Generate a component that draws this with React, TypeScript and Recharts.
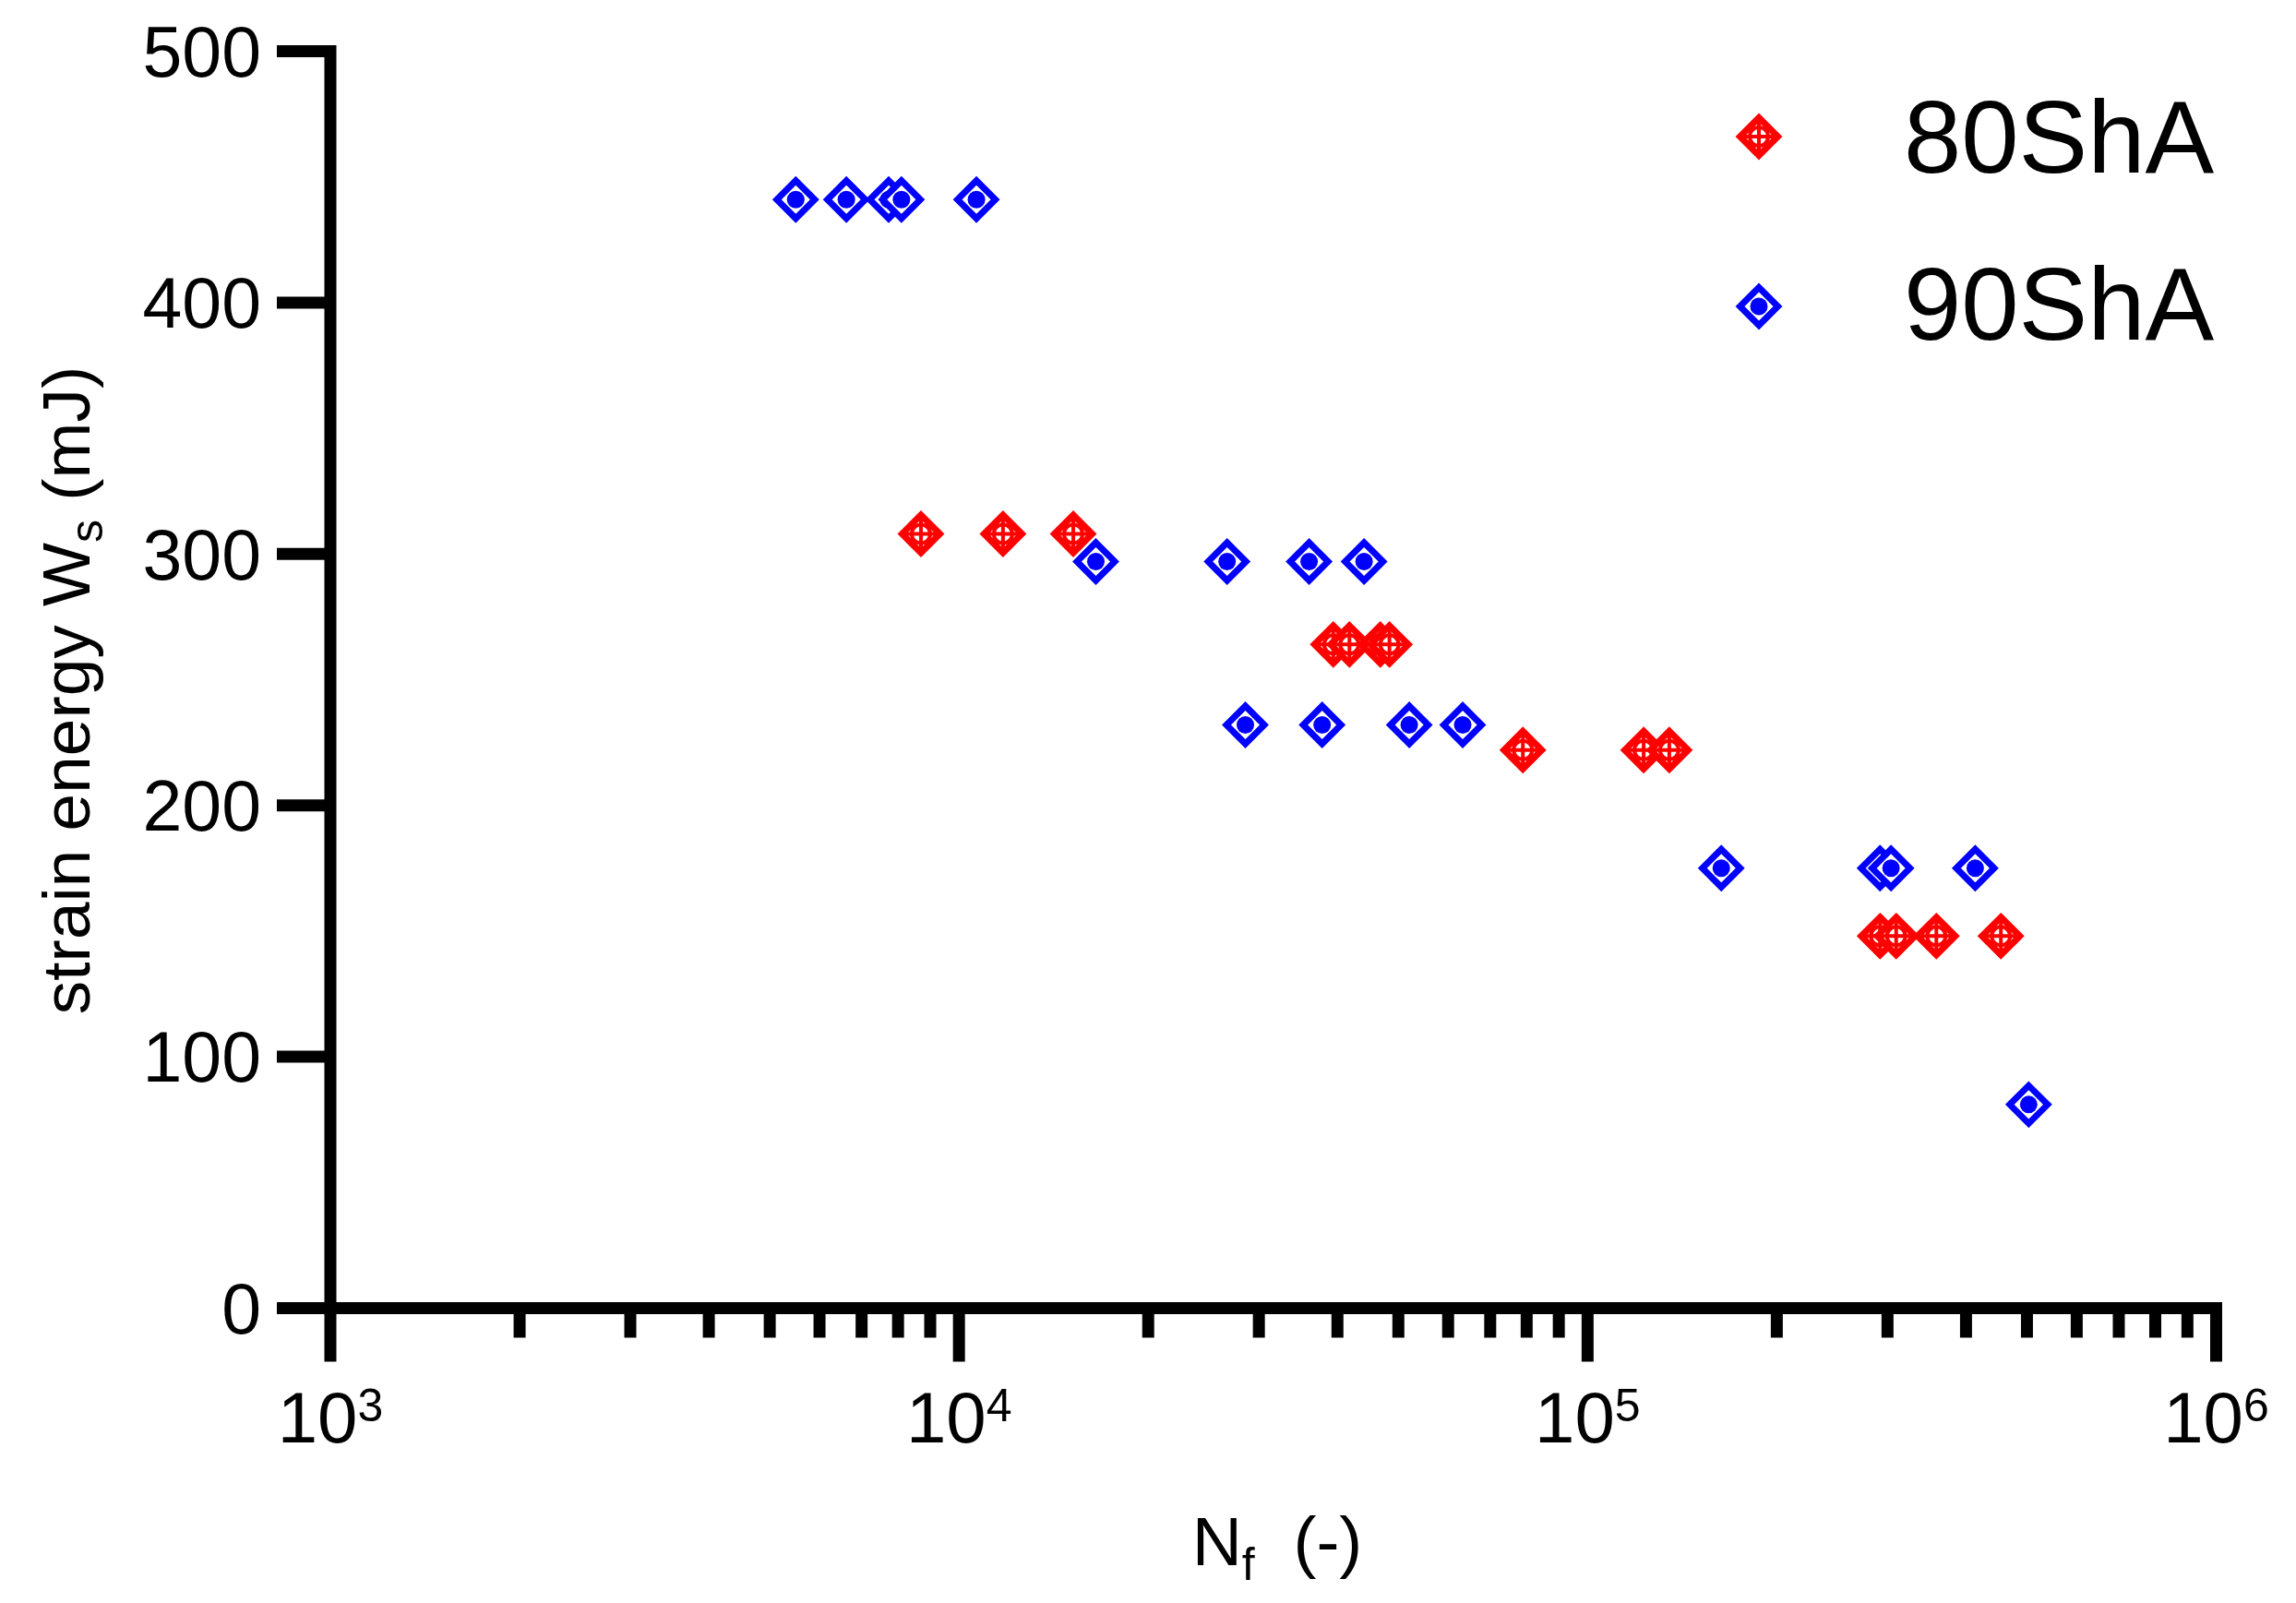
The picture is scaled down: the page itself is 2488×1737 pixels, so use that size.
import React from 'react';
import { ScatterChart, Scatter, XAxis, YAxis } from 'recharts';

const FONT = '"Liberation Sans", Arial, Helvetica, sans-serif';
const RED = '#ff0000';
const BLUE = '#0000ff';

// 80ShA: cycles to failure and strain energy (mJ)
const n80 = [8700, 11750, 15200, 39400, 41800, 46800, 48400, 78900, 122800, 134900, 292000, 309700, 358800, 454500];
const w80 = [308, 308, 308, 264, 264, 264, 264, 222, 222, 222, 148, 148, 148, 148];

// 90ShA
const n90 = [5500, 6620, 7730, 8100, 10660, 16510, 26700, 36060, 44100, 28550, 37820, 52040, 63290, 163200, 291900, 303900, 413700, 503200];
const w90 = [441, 441, 441, 441, 441, 297, 297, 297, 297, 232, 232, 232, 232, 175, 175, 175, 175, 81];

const xMajor = [1000, 10000, 100000, 1000000];
const xTicks = [
  1000, 2000, 3000, 4000, 5000, 6000, 7000, 8000, 9000,
  10000, 20000, 30000, 40000, 50000, 60000, 70000, 80000, 90000,
  100000, 200000, 300000, 400000, 500000, 600000, 700000, 800000, 900000,
  1000000,
];
const yTicks = [0, 100, 200, 300, 400, 500];

const d80 = n80.map((n, i) => ({ n, w: w80[i] }));
const d90 = n90.map((n, i) => ({ n, w: w90[i] }));

const diamond = (cx: number, cy: number, h: number) =>
  `M${cx},${cy - h}L${cx + h},${cy}L${cx},${cy + h}L${cx - h},${cy}Z`;

const RedMark = ({ cx, cy }: any) => (
  <g>
    <path d={diamond(cx, cy, 20.5)} fill="#fff" stroke={RED} strokeWidth={7} />
    <circle cx={cx} cy={cy} r={10} fill="none" stroke={RED} strokeWidth={4} />
    <line x1={cx} x2={cx} y1={cy - 19} y2={cy + 19} stroke={RED} strokeWidth={4} />
    <line x1={cx - 19} x2={cx + 19} y1={cy} y2={cy} stroke={RED} strokeWidth={4} />
  </g>
);

const BlueMark = ({ cx, cy }: any) => (
  <g>
    <path d={diamond(cx, cy, 20.5)} fill="#fff" stroke={BLUE} strokeWidth={7} />
    <circle cx={cx} cy={cy} r={9.5} fill={BLUE} />
  </g>
);

const XTick = ({ x, y, payload }: any) => {
  const v = payload.value;
  const major = xMajor.includes(v);
  return (
    <g>
      <line x1={x} x2={x} y1={y} y2={y + (major ? 58 : 32)} stroke="#000" strokeWidth={13} />
      {major && (
        <text x={x} y={y + 145.5} textAnchor="middle" fontFamily={FONT} fontSize={78} fill="#000">
          10<tspan dy={-23} fontSize={50}>{Math.round(Math.log10(v))}</tspan>
        </text>
      )}
    </g>
  );
};

const axisLine = { stroke: '#000', strokeWidth: 13, strokeLinecap: 'square' as const };

export default function App() {
  return (
    <div style={{ position: 'absolute', left: 0, top: 0, width: 2488, height: 1737, background: '#fff' }}>
      <ScatterChart width={2488} height={1737} margin={{ top: 55.5, right: 86.5, left: 0, bottom: 0 }}>
        <XAxis
          dataKey="n"
          type="number"
          scale="log"
          domain={[1000, 1000000]}
          allowDataOverflow
          ticks={xTicks}
          interval={0}
          tick={<XTick />}
          tickLine={false}
          tickSize={0}
          tickMargin={0}
          axisLine={axisLine}
          height={319.5}
        />
        <YAxis
          dataKey="w"
          type="number"
          domain={[0, 500]}
          ticks={yTicks}
          interval={0}
          tickSize={58}
          tickMargin={17}
          tickLine={{ stroke: '#000', strokeWidth: 13 }}
          axisLine={axisLine}
          tick={{ fill: '#000', fontSize: 77, fontFamily: FONT }}
          width={358}
        />
        <Scatter name="80ShA" data={d80} shape={(p: any) => <RedMark {...p} />} isAnimationActive={false} />
        <Scatter name="90ShA" data={d90} shape={(p: any) => <BlueMark {...p} />} isAnimationActive={false} />
      </ScatterChart>
      <svg width={2488} height={1737} style={{ position: 'absolute', left: 0, top: 0, pointerEvents: 'none' }}>
        <RedMark cx={1906} cy={148} />
        <text x={2063} y={187} fontFamily={FONT} fontSize={112} fill="#000">80ShA</text>
        <BlueMark cx={1906} cy={332} />
        <text x={2063} y={368} fontFamily={FONT} fontSize={112} fill="#000">90ShA</text>
        <text x={97} y={748} transform="rotate(-90, 97, 748)" textAnchor="middle" fontFamily={FONT} fontSize={73} fill="#000">
          strain energy W<tspan dy={14} fontSize={50}>s</tspan><tspan dy={-14}> (mJ)</tspan>
        </text>
        <text x={1384} y={1696} textAnchor="middle" fontFamily={FONT} fontSize={75} fill="#000" style={{ whiteSpace: 'pre' }}>
          N<tspan dy={16} fontSize={50}>f</tspan><tspan dy={-16}>{'  (-)'}</tspan>
        </text>
      </svg>
    </div>
  );
}
